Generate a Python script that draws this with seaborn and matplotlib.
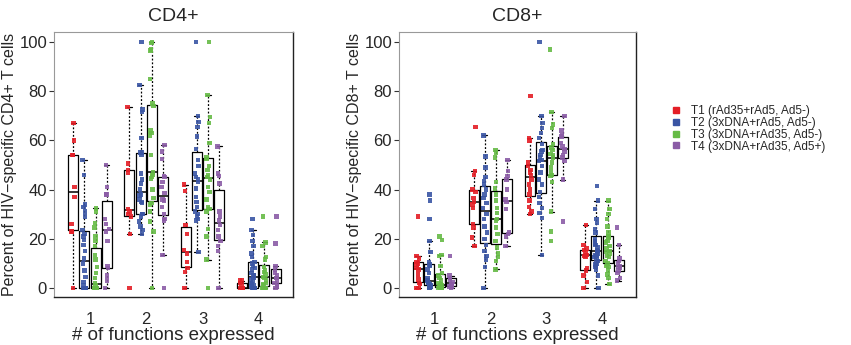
# Boxplots with jittered points: % of HIV-specific CD4+/CD8+ T cells by # of functions.
import numpy as np
import pandas as pd
import seaborn as sns
import matplotlib
matplotlib.use('Agg')
import matplotlib.pyplot as plt
from matplotlib.lines import Line2D

sns.set_style("white")
plt.rcParams['font.family'] = ['Liberation Sans', 'DejaVu Sans']
np.random.seed(3)

functions = ["1", "2", "3", "4"]
treatments = ["T1 (rAd35+rAd5, Ad5-)", "T2 (3xDNA+rAd5, Ad5-)",
              "T3 (3xDNA+rAd35, Ad5-)", "T4 (3xDNA+rAd35, Ad5+)"]
colors = ["#E41E26", "#3A55A4", "#66BB46", "#8B5CA6"]

# CD4+ values, one list per # of functions (1..4)
cd4_t1 = [[67, 60, 54, 54, 41, 37, 26, 23, 23, 0],
          [73.5, 50.5, 48, 47, 32, 31, 30, 29, 22, 0],
          [42, 39.5, 25.5, 22, 15.5, 14, 10.5, 8, 6.5, 0],
          [3, 3, 2, 1, 0, 0, 0, 0, 0]]
cd4_t2 = [[52, 46, 34, 33, 31, 29, 23.5, 22, 21, 19.5, 17.5, 15, 12, 10, 7, 4.5,
           2.5, 1, 0, 0, 0, 0, 0, 0, 0, 0],
          [100, 82.5, 72.5, 71.5, 61, 55, 55, 54, 46.5, 44, 42.5, 40, 38, 37.5, 36,
           35, 34.5, 30, 30, 29, 27, 25, 23.5, 22],
          [100, 70, 67.5, 65.5, 61.5, 56.5, 52, 49.5, 46.5, 45, 44, 43, 40.5, 37, 35,
           33, 31, 30, 29, 28, 27.5, 14.5],
          [28, 23.5, 21.5, 19, 17, 14, 12.5, 10.5, 10, 9, 8, 7.5, 6, 5, 5, 4, 3.5, 3,
           2, 1.5, 1, 0.5, 0, 0, 0, 0, 0, 0, 0, 0]]
cd4_t3 = [[32.3, 31, 26.5, 24.5, 21, 19, 17, 13.5, 11.5, 8.5, 6, 4, 2, 1,
           0, 0, 0, 0, 0, 0, 0, 0, 0, 0, 0, 0],
          [100, 99.5, 97, 96.5, 85, 74, 75, 64, 63, 62, 54, 47, 46, 45, 44.5, 40,
           36.5, 34.5, 34, 31, 27, 23, 0],
          [100, 78.5, 69.5, 67, 59, 52.5, 53, 49.5, 48, 46, 45, 44, 41, 39, 36, 33,
           31, 32, 24, 21, 11.5, 0],
          [29, 18.5, 17, 12.5, 11.5, 8.5, 7, 6.5, 5.5, 4.5, 4, 3, 2, 1.5, 1,
           0, 0, 0, 0, 0]]
cd4_t4 = [[50, 41, 38, 38, 28, 26, 24, 23, 19, 9, 8, 5, 3, 0],
          [58, 55.5, 52.5, 45.5, 45, 43, 41, 38.5, 36, 35.5, 33, 30, 28, 27.5, 13.5, 0],
          [57.5, 46.5, 45.5, 42.5, 31, 29, 27.5, 25.5, 23.5, 21, 19, 17, 15, 0],
          [29, 18, 9, 7.5, 6, 5, 4, 4, 3, 2, 1, 0.5, 0]]

# CD8+ values
cd8_t1 = [[29, 13, 12, 10.5, 10, 9.5, 8, 7.5, 5.5, 3.5, 2, 1.5, 0, 0],
          [65.5, 47.5, 46, 40, 39, 36.5, 35, 34, 32.5, 26, 24.5, 20.5, 17],
          [78, 61, 60, 51, 49.5, 48, 47, 46, 44, 42, 40, 38, 35.5, 33, 31, 30],
          [25.5, 17.5, 16, 15.5, 14.5, 13.5, 12.5, 13, 13.5, 8, 7, 5, 2.5, 0]]
cd8_t2 = [[38, 35.5, 28, 19, 14.5, 10.5, 9.5, 9, 7.5, 6, 4, 3, 3, 2.5, 2, 2, 1.5,
           1, 1, 0.5, 0.5, 0, 0, 0],
          [62, 53.5, 49, 45, 43.5, 42, 40, 38, 36.5, 34.5, 32.5, 30, 28, 25, 22.5,
           20, 17.5, 15, 13, 11.5, 8.5, 0],
          [100, 70, 67, 65, 63, 61, 58.5, 56, 55.5, 54, 53, 52, 51.5, 49.5, 47, 44,
           42, 39, 37, 34.5, 32.5, 30.5, 28.5, 13.5],
          [41.5, 35.5, 32, 28, 26.5, 24, 22.5, 20, 19, 18, 17.5, 16.5, 15.5, 15,
           14.5, 14, 13.5, 13, 12.5, 12, 11, 10, 9.5, 8.5, 7.5, 5, 0]]
cd8_t3 = [[21, 19.5, 13.5, 13, 9, 6, 5, 4, 3, 2, 1.5, 1, 1, 1, 1, 0.5, 0.5,
           0, 0, 0, 0, 0],
          [56, 55, 53, 43, 40.5, 38, 35.5, 32.5, 30.5, 28, 27.5, 24.5, 22, 19,
           16.5, 14, 12.5, 11, 7.5],
          [97, 71.5, 66.5, 65, 58.5, 57, 56, 54.5, 54, 53, 51, 49, 47, 46, 45.5,
           43, 31, 23, 19],
          [35.5, 32, 30, 28, 25, 22.5, 21, 20.5, 19, 18.5, 17, 16, 15, 14.5, 14,
           13, 12.5, 11, 10, 9, 8.5, 7, 5.5, 4, 1.5]]
cd8_t4 = [[13, 5, 4, 3.5, 2.5, 1.5, 1, 0.5, 0.5, 0],
          [52, 47.5, 45.5, 44, 40, 36, 35, 32, 22, 22.5, 21, 17],
          [70, 64, 62, 61.5, 59, 57.5, 56.5, 55.5, 54, 53, 51.5, 44, 27],
          [24.5, 17.5, 12, 11, 10, 9, 8.5, 8, 7, 6, 4, 3]]


def long_table(series):
    rows = []
    for trt, groups in zip(treatments, series):
        for func, vals in zip(functions, groups):
            for v in vals:
                rows.append((func, trt, v))
    return pd.DataFrame(rows, columns=["functions", "treatment", "percent"])


panels = [(long_table([cd4_t1, cd4_t2, cd4_t3, cd4_t4]), "CD4+",
           "Percent of HIV\u2212specific CD4+ T cells"),
          (long_table([cd8_t1, cd8_t2, cd8_t3, cd8_t4]), "CD8+",
           "Percent of HIV\u2212specific CD8+ T cells")]

fig = plt.figure(figsize=(8.51, 3.45), dpi=100)
axes = [fig.add_axes([0.0635, 0.139, 0.2808, 0.768]),
        fig.add_axes([0.4689, 0.139, 0.2785, 0.768])]

for ax, (df, title, ylab) in zip(axes, panels):
    sns.boxplot(data=df, x="functions", y="percent", hue="treatment",
                order=functions, hue_order=treatments, palette=["black"] * 4,
                fill=False, width=0.8, gap=0.1, whis=1.5, showfliers=False,
                linewidth=0.9, legend=False, ax=ax,
                whiskerprops=dict(linestyle=(0, (1.5, 1.5)), linewidth=0.9),
                medianprops=dict(linewidth=1.1))
    sns.stripplot(data=df, x="functions", y="percent", hue="treatment",
                  order=functions, hue_order=treatments, palette=colors,
                  dodge=True, jitter=0.14, marker="s", size=3.2, linewidth=0,
                  alpha=0.9, legend=False, ax=ax)
    ax.set_xlim(-0.64, 3.61)
    ax.set_ylim(-3.7, 104)
    ax.set_yticks([0, 20, 40, 60, 80, 100])
    ax.set_xticks([-0.5, 0.5, 1.5, 2.5, 3.5], [""] * 5)
    ax.set_xticks(range(4), functions, minor=True)
    ax.tick_params(axis="x", which="major", length=3.5, width=0.8, color="#333333")
    ax.tick_params(axis="x", which="minor", length=0, pad=10.5, labelsize=12)
    ax.tick_params(axis="y", length=3.5, width=0.8, pad=1.5, labelsize=12,
                   color="#333333", left=True)
    ax.set_title(title, fontsize=14, pad=8)
    ax.set_xlabel("# of functions expressed", fontsize=13.5, labelpad=0)
    ax.set_ylabel(ylab, fontsize=11.5, labelpad=2)
    for side in ["left", "top"]:
        ax.spines[side].set_color("#999999")
        ax.spines[side].set_linewidth(0.8)
    for side in ["right", "bottom"]:
        ax.spines[side].set_color("#222222")
        ax.spines[side].set_linewidth(1.0)

handles = [Line2D([], [], marker="s", ls="", color=c, markersize=4) for c in colors]
fig.legend(handles, treatments, loc="upper left", bbox_to_anchor=(0.79, 0.695),
           frameon=False, fontsize=8.5, handlelength=0.7, handletextpad=0.9,
           labelspacing=-0.02, borderpad=0, borderaxespad=0)

fig.savefig("out.png", dpi=100)
